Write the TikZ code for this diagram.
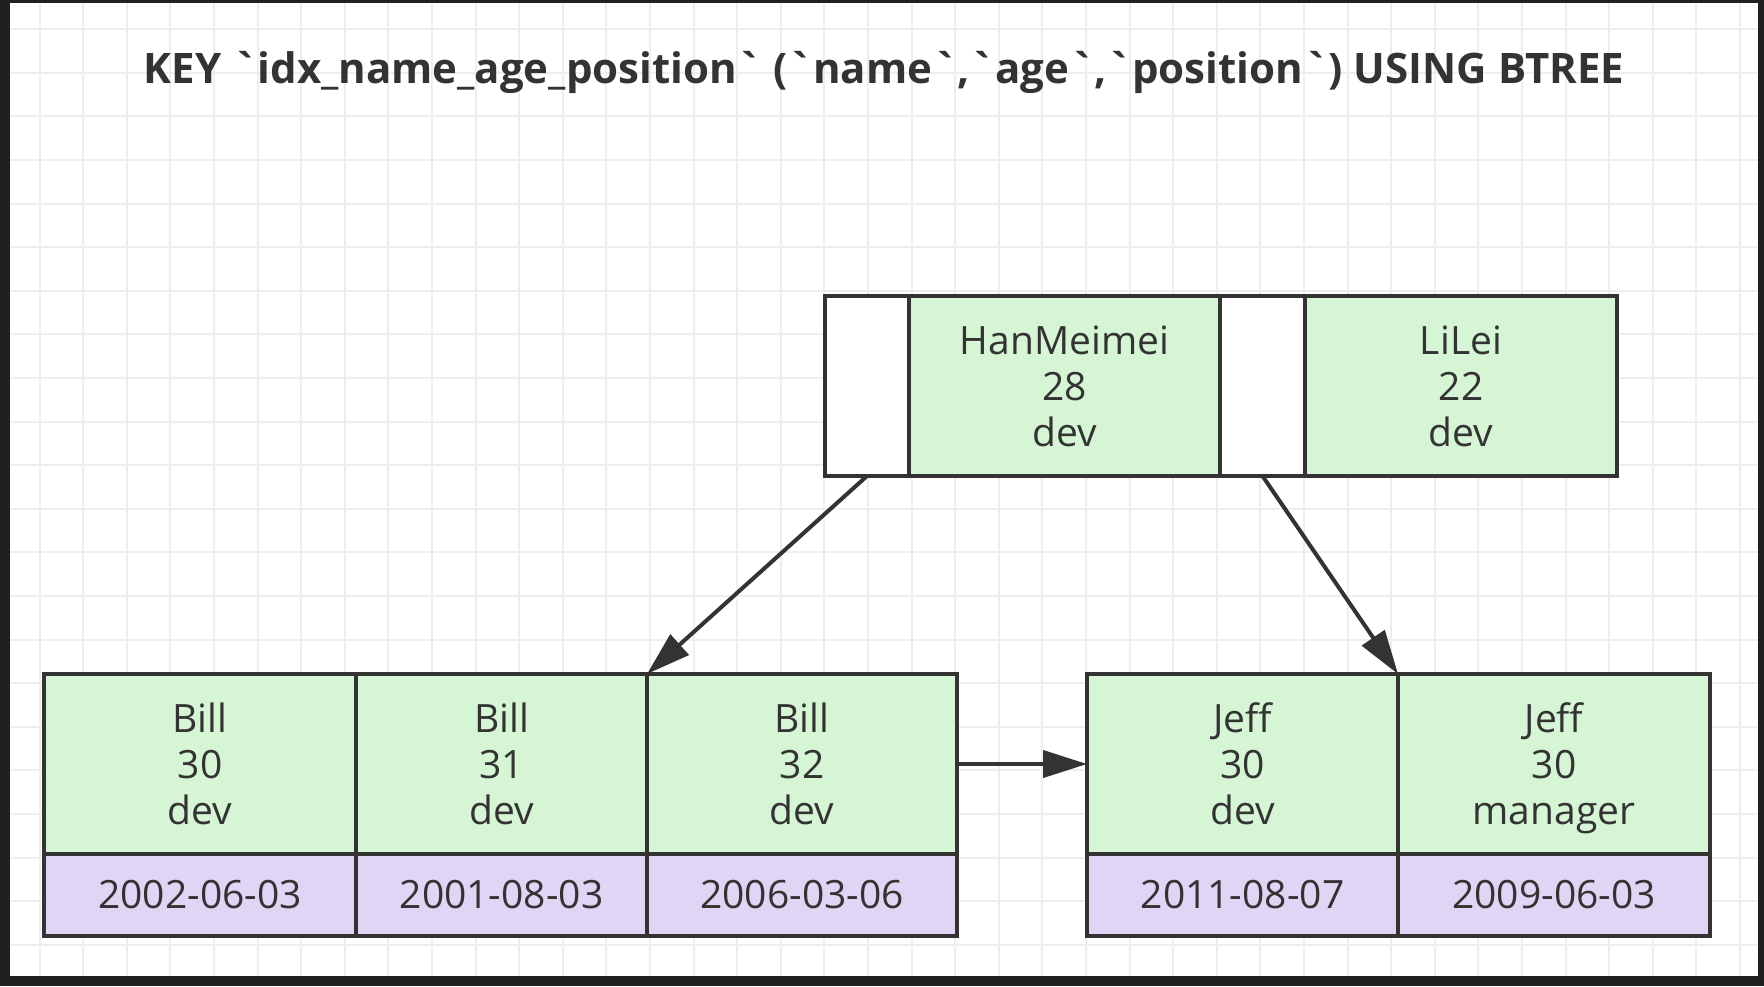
\documentclass[tikz,border=0pt]{standalone}
\usepackage{fontspec}
\setmainfont{Open Sans}[Ligatures=TeXOff]
\usepackage{xcolor}
\usetikzlibrary{arrows.meta, positioning}
\definecolor{keygreen}{RGB}{213,245,213}
\definecolor{rowpurple}{RGB}{225,213,245}
\definecolor{inkgray}{RGB}{51,51,51}
\definecolor{gridgray}{RGB}{238,238,238}
\definecolor{framegray}{RGB}{32,32,34}

\begin{document}
\begin{tikzpicture}[
  x=1pt, y=-1pt,
  node distance=0pt,
  cell/.style={rectangle, draw=inkgray, line width=3.5pt, text=inkgray, minimum height=180pt, inner sep=0pt, outer sep=0pt, align=center, font=\fontsize{39}{46}\selectfont},
  key/.style={cell, fill=keygreen, text depth=0pt},
  ptr/.style={cell, fill=white},
  row/.style={cell, fill=rowpurple, minimum height=82pt},
  arr/.style={-{Triangle[length=44pt, width=27pt]}, line width=4pt, draw=inkgray},
  gridline/.style={draw=gridgray, line width=2pt}
]
\useasboundingbox (0,0) rectangle (1764,986);
\fill[white] (0,0) rectangle (1764,986);
\foreach \i in {0,...,39} \draw[gridline] (39.5+43.6*\i,0) -- (39.5+43.6*\i,986);
\foreach \i in {0,...,21} \draw[gridline] (0,29.2+43.6*\i) -- (1764,29.2+43.6*\i);
\fill[framegray] (0,0) rectangle (10,986);
\fill[framegray] (0,0) rectangle (1764,3);
\fill[framegray] (1758,0) rectangle (1764,986);
\fill[framegray] (0,976) rectangle (1764,986);

\node[font=\fontsize{42}{48}\selectfont\bfseries, text=inkgray] (title) at (884,72) {KEY `idx\_name\_age\_position` (`name`,`age`,`position`) USING BTREE};

\node[ptr, minimum width=84pt, anchor=north west] (ptrA) at (825,296) {};
\node[key, minimum width=311pt, right=of ptrA] (han) {HanMeimei\\28\\dev};
\node[ptr, minimum width=85pt, right=of han] (ptrB) {};
\node[key, minimum width=312pt, right=of ptrB] (lilei) {LiLei\\22\\dev};

\node[key, minimum width=312pt, anchor=north west] (bill1) at (44,674) {Bill\\30\\dev};
\node[key, minimum width=291pt, right=of bill1] (bill2) {Bill\\31\\dev};
\node[key, minimum width=310pt, right=of bill2] (bill3) {Bill\\32\\dev};
\node[row, minimum width=312pt, below=of bill1] (date1) {2002-06-03};
\node[row, minimum width=291pt, below=of bill2] (date2) {2001-08-03};
\node[row, minimum width=310pt, below=of bill3] (date3) {2006-03-06};

\node[key, minimum width=311pt, anchor=north west] (jeff1) at (1087,674) {Jeff\\30\\dev};
\node[key, minimum width=312pt, right=of jeff1] (jeff2) {Jeff\\30\\manager};
\node[row, minimum width=311pt, below=of jeff1] (date4) {2011-08-07};
\node[row, minimum width=312pt, below=of jeff2] (date5) {2009-06-03};

\foreach \x/\y in {ptrA.south/bill3.north west, ptrB.south/jeff2.north west, bill3.east/jeff1.west} \draw[arr] (\x)--(\y);
\end{tikzpicture}
\end{document}
